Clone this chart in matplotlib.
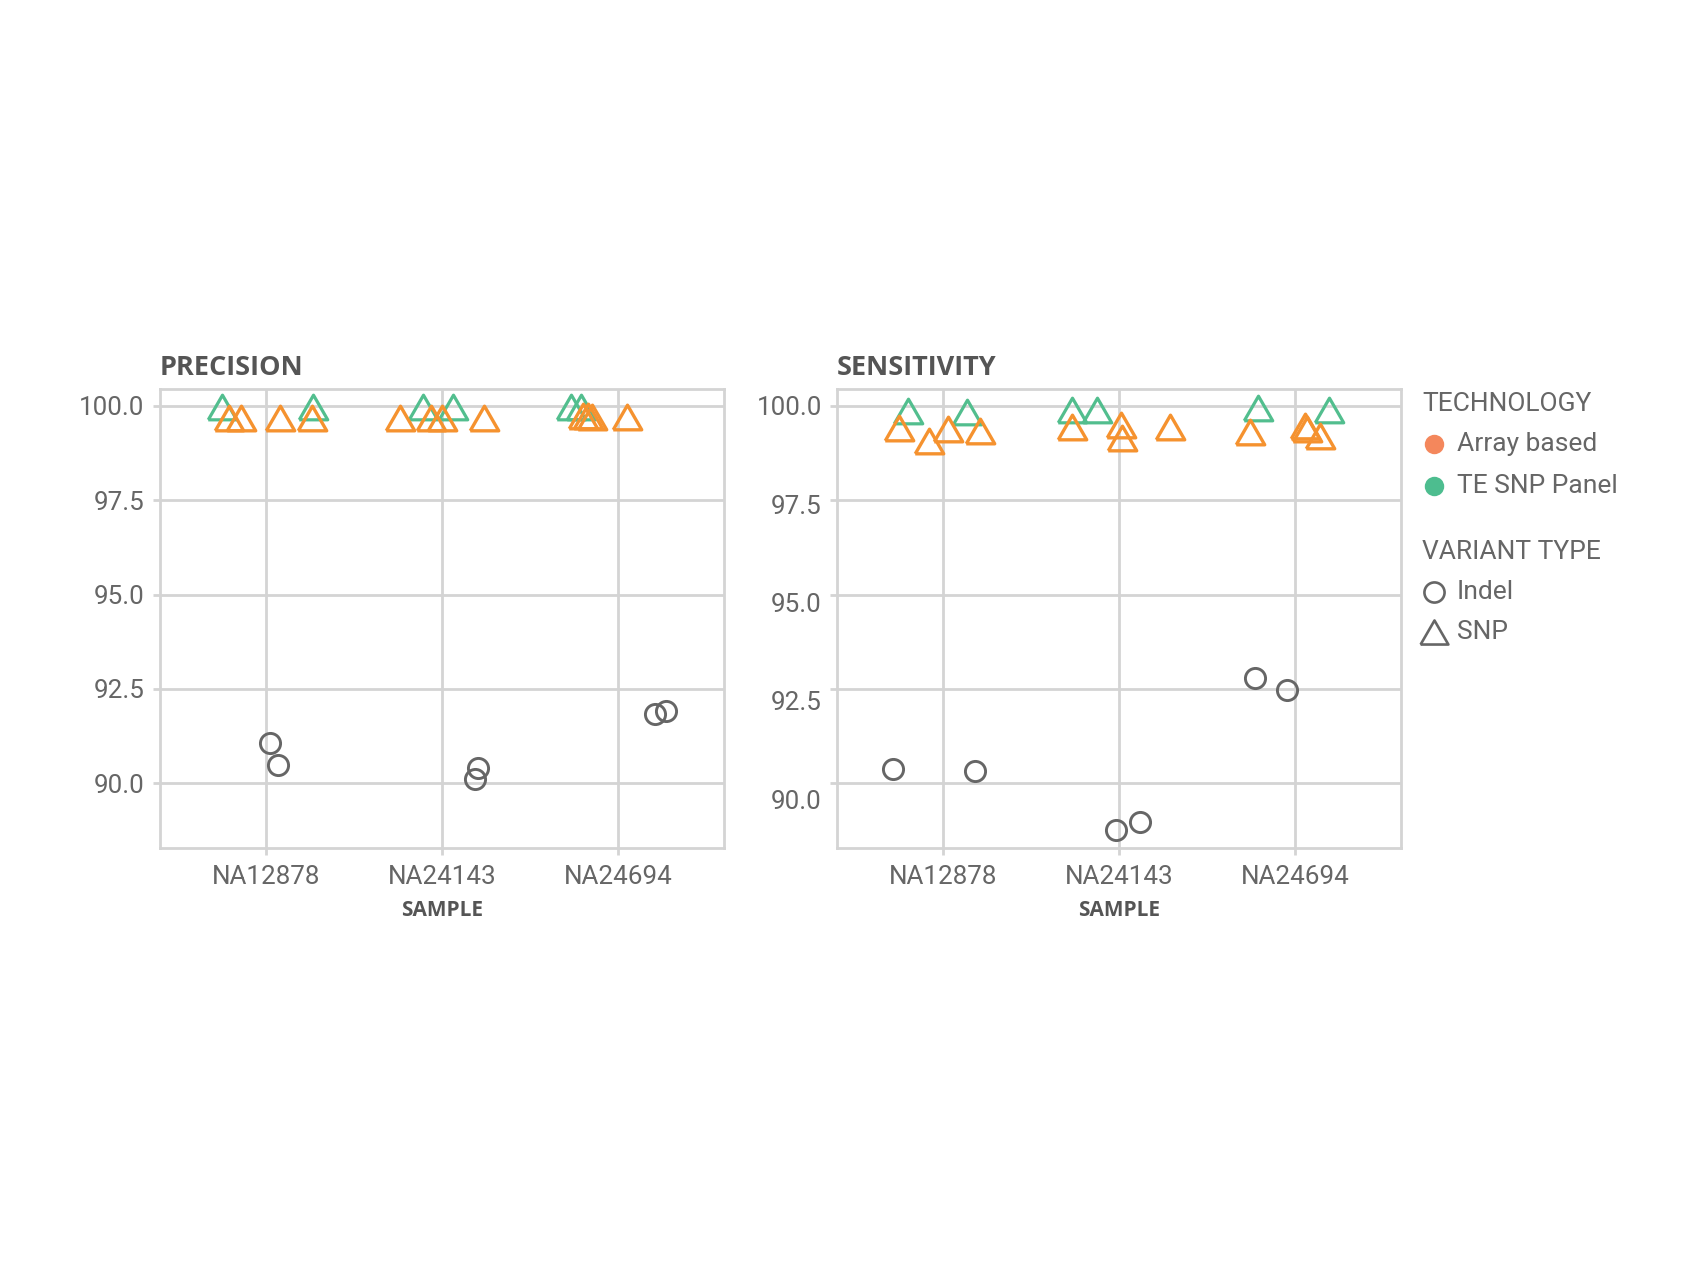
import matplotlib
matplotlib.use("Agg")
import matplotlib.pyplot as plt
from matplotlib.lines import Line2D
from matplotlib.transforms import ScaledTranslation

plt.rcParams.update({
    "font.family": ["Roboto", "DejaVu Sans"],
    "font.size": 18,
    "text.color": "#666666",
    "axes.labelcolor": "#555555",
    "xtick.color": "#d4d4d4",
    "ytick.color": "#d4d4d4",
    "xtick.labelcolor": "#666666",
    "ytick.labelcolor": "#666666",
})

# ---- data ----
samples = ["NA12878", "NA24143", "NA24694"]
y_ticks = [90.0, 92.5, 95.0, 97.5, 100.0]

# precision: per sample, jitter offsets and values
prec_snp_te_jit = [[-0.25, 0.27], [-0.11, 0.06], [-0.27, -0.21]]
prec_snp_te = [[99.97, 99.97], [99.96, 99.96], [99.98, 99.98]]
prec_snp_arr_jit = [[-0.21, -0.14, 0.08, 0.26], [-0.24, -0.06, 0.0, 0.24], [-0.20, -0.17, -0.15, 0.05]]
prec_snp_arr = [[99.67, 99.67, 99.67, 99.67], [99.67, 99.67, 99.67, 99.67], [99.74, 99.74, 99.72, 99.70]]
prec_indel_jit = [[0.026, 0.07], [0.205, 0.186], [0.21, 0.27]]
prec_indel = [[91.07, 90.47], [90.41, 90.12], [91.83, 91.90]]

# sensitivity
sens_snp_te_jit = [[-0.20, 0.135], [-0.27, -0.125], [-0.21, 0.19]]
sens_snp_te = [[99.87, 99.84], [99.90, 99.90], [99.95, 99.90]]
sens_snp_arr_jit = [[-0.25, -0.08, 0.03, 0.21], [-0.27, 0.01, 0.015, 0.29], [-0.26, 0.055, 0.065, 0.14]]
sens_snp_arr = [[99.42, 99.08, 99.40, 99.34], [99.45, 99.50, 99.14, 99.45], [99.32, 99.47, 99.40, 99.20]]
sens_indel_jit = [[-0.28, 0.18], [-0.016, 0.12], [-0.23, -0.05]]
sens_indel = [[90.38, 90.31], [88.76, 88.98], [92.78, 92.46]]

ORANGE = "#f5922f"
GREEN = "#52be8e"
GRAY = "#666666"
GRID = "#d4d4d4"
LEG_ORANGE = "#f4875c"
LEG_GREEN = "#4dbd8f"
HEAD_FONT = ["Open Sans", "DejaVu Sans"]

# equilateral triangle centred on its bounding box
TRI = [(-1.0, -0.866), (1.0, -0.866), (0.0, 0.866), (-1.0, -0.866)]


def draw_panel(ax, title, te_jit, te, arr_jit, arr, ind_jit, ind):
    for i in range(len(samples)):
        ax.plot([i + j for j in ind_jit[i]], ind[i], ls="none", marker="o", ms=14.5,
                mfc="none", mec=GRAY, mew=2.1, zorder=3)
        ax.plot([i + j for j in te_jit[i]], te[i], ls="none", marker=TRI, ms=20.5,
                mfc="none", mec=GREEN, mew=2.3, zorder=3)
        ax.plot([i + j for j in arr_jit[i]], arr[i], ls="none", marker=TRI, ms=20.5,
                mfc="none", mec=ORANGE, mew=2.4, zorder=4)

    ax.set_xlim(-0.6, 2.6)
    ax.set_ylim(88.28, 100.45)
    ax.set_xticks(range(len(samples)))
    ax.set_xticklabels(samples)
    ax.set_yticks(y_ticks)
    ax.set_yticklabels([f"{v:.1f}" for v in y_ticks])
    ax.grid(True, color=GRID, lw=2.0, zorder=0)
    ax.set_axisbelow(True)
    for sp in ax.spines.values():
        sp.set_color(GRID)
        sp.set_linewidth(2.0)
    ax.tick_params(axis="both", length=5, width=2.0, labelsize=18.7)
    ax.tick_params(axis="x", pad=7)
    ax.tick_params(axis="y", pad=6)
    ax.set_xlabel("SAMPLE", fontsize=15, fontweight="bold", color="#555555", labelpad=8.5,
                  family=HEAD_FONT)
    ax.set_title(title, loc="left", fontsize=19.5, fontweight="bold", color="#555555", pad=10,
                 family=HEAD_FONT)


fig = plt.figure(figsize=(17, 12.75), dpi=100)
ax1 = fig.add_axes([0.0941, 0.3349, 0.3318, 0.3600])
ax2 = fig.add_axes([0.4924, 0.3349, 0.3318, 0.3600])

draw_panel(ax1, "PRECISION", prec_snp_te_jit, prec_snp_te, prec_snp_arr_jit, prec_snp_arr,
           prec_indel_jit, prec_indel)
draw_panel(ax2, "SENSITIVITY", sens_snp_te_jit, sens_snp_te, sens_snp_arr_jit, sens_snp_arr,
           sens_indel_jit, sens_indel)

# the right panel's tick labels drift downward a little in the original
fig.canvas.draw()
for tick in ax2.yaxis.get_major_ticks():
    off_px = (100.0 - tick.get_loc()) * 1.6
    lab = tick.label1
    lab.set_transform(lab.get_transform() + ScaledTranslation(0, -off_px / 100.0, fig.dpi_scale_trans))

# legend, drawn by hand
W, H = 1700.0, 1275.0


def fx(px):
    return px / W


def fy(py):
    return 1 - py / H


fig.text(fx(1422), fy(404), "TECHNOLOGY", fontsize=19, va="center", ha="left")
fig.text(fx(1422), fy(552), "VARIANT TYPE", fontsize=19, va="center", ha="left")
items = [
    (444, "Array based", dict(marker="o", ms=14, mfc=LEG_ORANGE, mec=LEG_ORANGE, mew=0)),
    (486, "TE SNP Panel", dict(marker="o", ms=14, mfc=LEG_GREEN, mec=LEG_GREEN, mew=0)),
    (592, "Indel", dict(marker="o", ms=14.5, mfc="none", mec=GRAY, mew=1.9)),
    (632, "SNP", dict(marker=TRI, ms=20, mfc="none", mec=GRAY, mew=1.9)),
]
for py, label, style in items:
    fig.add_artist(Line2D([fx(1434)], [fy(py)], transform=fig.transFigure, ls="none", **style))
    fig.text(fx(1457), fy(py), label, fontsize=19, va="center", ha="left")

fig.savefig("out.png", dpi=100)
